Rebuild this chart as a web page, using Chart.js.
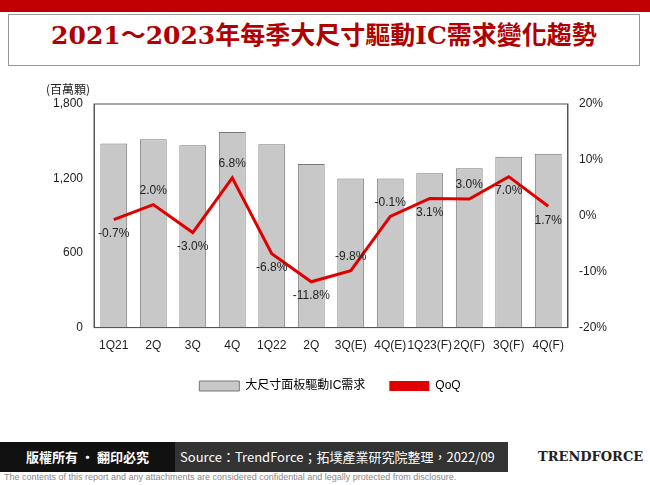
<!DOCTYPE html>
<html><head><meta charset="utf-8">
<script src="https://cdn.jsdelivr.net/npm/chart.js@4"></script>
<style>
body{margin:0;width:650px;height:485px;background:#fff;font-family:Arial,"Liberation Sans",sans-serif;overflow:hidden;position:relative}
#top{position:absolute;left:0;top:0;width:650px;height:12px;background:#c00000}
#title{position:absolute;left:8px;top:14px;width:630px;height:50px;border:1px solid #999;background:#fff;text-align:center;line-height:50px;color:#b00000;font:bold 25px "DejaVu Serif","Noto Sans CJK TC",serif}
#wrap{position:absolute;left:50px;top:82px;width:560px;height:320px}
#foot{position:absolute;left:0;top:442px;width:650px;height:30px;background:#333}
#foot .l{position:absolute;left:0;top:0;width:175px;height:30px;background:#111;color:#fff;font:bold 13px "Noto Sans CJK TC",sans-serif;line-height:30px;text-align:center}
#foot .m{position:absolute;left:180px;top:0;width:320px;height:30px;color:#fff;font:13px "Noto Sans CJK TC",sans-serif;line-height:30px}
#foot .r{position:absolute;left:508px;top:0;width:142px;height:30px;background:#fff;color:#222;font:bold 13px "DejaVu Serif",serif;line-height:30px;padding-left:30px;box-sizing:border-box;white-space:nowrap}
#disc{position:absolute;left:4px;top:472px;font-size:9px;color:#888}
#unit{position:absolute;left:46px;top:80px;font:12px "Noto Sans CJK TC",sans-serif;color:#222}
</style></head><body>
<div id="top"></div>
<div id="title">2021～2023年每季大尺寸驅動IC需求變化趨勢</div>
<div id="wrap"><canvas id="c"></canvas></div>
<div id="unit">(百萬顆)</div>
<div id="foot"><div class="l">版權所有 · 翻印必究</div><div class="m">Source：TrendForce；拓墣產業研究院整理，2022/09</div><div class="r">TRENDFORCE</div></div>
<div id="disc">The contents of this report and any attachments are considered confidential and legally protected from disclosure.</div>
<script>
const categories = ['1Q21','2Q','3Q','4Q','1Q22','2Q','3Q(E)','4Q(E)','1Q23(F)','2Q(F)','3Q(F)','4Q(F)'];
const demand = [1483,1517,1467,1575,1475,1317,1200,1200,1242,1283,1375,1400];
const qoq = [-0.7,2.0,-3.0,6.8,-6.8,-11.8,-9.8,-0.1,3.1,3.0,7.0,1.7];
const labelSide = ['below','above','below','above','below','below','above','above','below','above','below','below'];

const qoqLabels = {
  id: 'qoqLabels',
  afterDatasetsDraw(chart) {
    const ctx = chart.ctx;
    const meta = chart.getDatasetMeta(1);
    const a = chart.chartArea;
    ctx.save();
    ctx.strokeStyle = '#555';
    ctx.lineWidth = 1;
    ctx.strokeRect(a.left, a.top, a.right - a.left, a.bottom - a.top);
    ctx.font = '12px Arial';
    ctx.fillStyle = '#222';
    ctx.textAlign = 'center';
    ctx.textBaseline = 'middle';
    meta.data.forEach((p, i) => {
      const dy = labelSide[i] === 'above' ? -14 : 14;
      ctx.fillText(qoq[i].toFixed(1) + '%', p.x, p.y + dy);
    });
    ctx.restore();
  }
};

new Chart(document.getElementById('c'), {
  data: {
    labels: categories,
    datasets: [
      {type: 'bar', label: '大尺寸面板驅動IC需求', data: demand, yAxisID: 'y',
       backgroundColor: '#c8c8c8', borderColor: '#777', borderWidth: 1, categoryPercentage: 0.8, barPercentage: 0.85, order: 2},
      {type: 'line', label: 'QoQ', data: qoq, yAxisID: 'y1', borderColor: '#e00000',
       borderWidth: 3, pointRadius: 0, tension: 0, order: 1}
    ]
  },
  options: {
    responsive: true, maintainAspectRatio: false, animation: false,
    layout: {padding: {top: 22}},
    plugins: {
      legend: {position: 'bottom', labels: {font: {size: 12, family: 'Arial, "Noto Sans CJK TC"'}, color: '#222', boxWidth: 40, boxHeight: 10, padding: 24,
        generateLabels(chart) {
          return [
            {text: '大尺寸面板驅動IC需求', fillStyle: '#c8c8c8', strokeStyle: '#777', lineWidth: 1, datasetIndex: 0},
            {text: 'QoQ', fillStyle: '#e00000', strokeStyle: '#e00000', lineWidth: 0, datasetIndex: 1}
          ];
        }}},
      tooltip: {enabled: false}
    },
    scales: {
      x: {grid: {display: false}, border: {color: '#555'},
          ticks: {color: '#222', font: {size: 12}, maxRotation: 0, autoSkip: false}},
      y: {min: 0, max: 1800, ticks: {stepSize: 600, color: '#222', font: {size: 12},
          callback: v => v.toLocaleString('en-US')}, grid: {display: false}, border: {color: '#555'}},
      y1: {position: 'right', min: -20, max: 20, ticks: {stepSize: 10, color: '#222', font: {size: 12},
          callback: v => v + '%'}, grid: {display: false}, border: {color: '#555'}}
    }
  },
  plugins: [qoqLabels]
});
</script>
</body></html>
